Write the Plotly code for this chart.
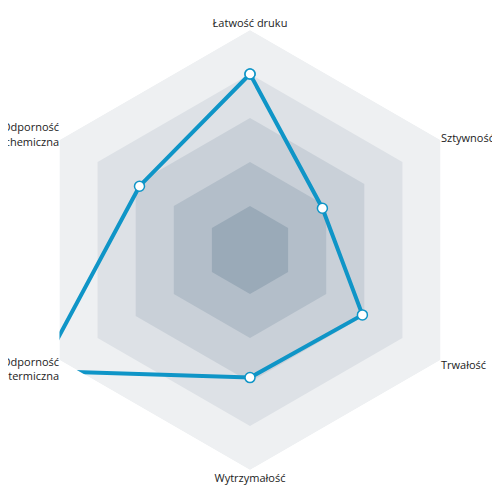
import plotly.graph_objects as go

categories = ["Łatwość druku", "Sztywność", "Trwałość", "Wytrzymałość",
              "Odporność<br>termiczna", "Odporność<br>chemiczna"]
values = [0.8, 0.38, 0.59, 0.58, 1.1, 0.58]

levels = [1.0, 0.8, 0.6, 0.4, 0.2]
level_colors = ["#eef0f2", "#dde1e6", "#c9d0d8", "#b3bec9", "#9aaab8"]

fig = go.Figure()

# tło - koncentryczne sześciokąty
for lv, col in zip(levels, level_colors):
    fig.add_trace(go.Scatterpolar(
        r=[lv] * (len(categories) + 1),
        theta=categories + [categories[0]],
        mode="lines", fill="toself", fillcolor=col,
        line=dict(width=0, color=col), hoverinfo="skip", showlegend=False,
    ))

fig.add_trace(go.Scatterpolar(
    r=values + [values[0]],
    theta=categories + [categories[0]],
    mode="lines+markers",
    line=dict(color="#0f95c7", width=4),
    marker=dict(size=10, color="white", line=dict(color="#0f95c7", width=1.5)),
    showlegend=False, cliponaxis=False,
))

fig.update_layout(
    width=500, height=500,
    paper_bgcolor="white",
    margin=dict(l=0, r=0, t=0, b=0),
    font=dict(family="Open Sans", size=11, color="#222"),
    polar=dict(
        bgcolor="rgba(0,0,0,0)",
        gridshape="linear",
        domain=dict(x=[0.044, 0.924], y=[0.076, 0.956]),
        radialaxis=dict(range=[0, 1.0], visible=False, showgrid=False),
        angularaxis=dict(rotation=90, direction="clockwise", showgrid=False,
                         showline=False, ticks="", tickfont=dict(size=11)),
    ),
)

fig.write_html("out.html")
